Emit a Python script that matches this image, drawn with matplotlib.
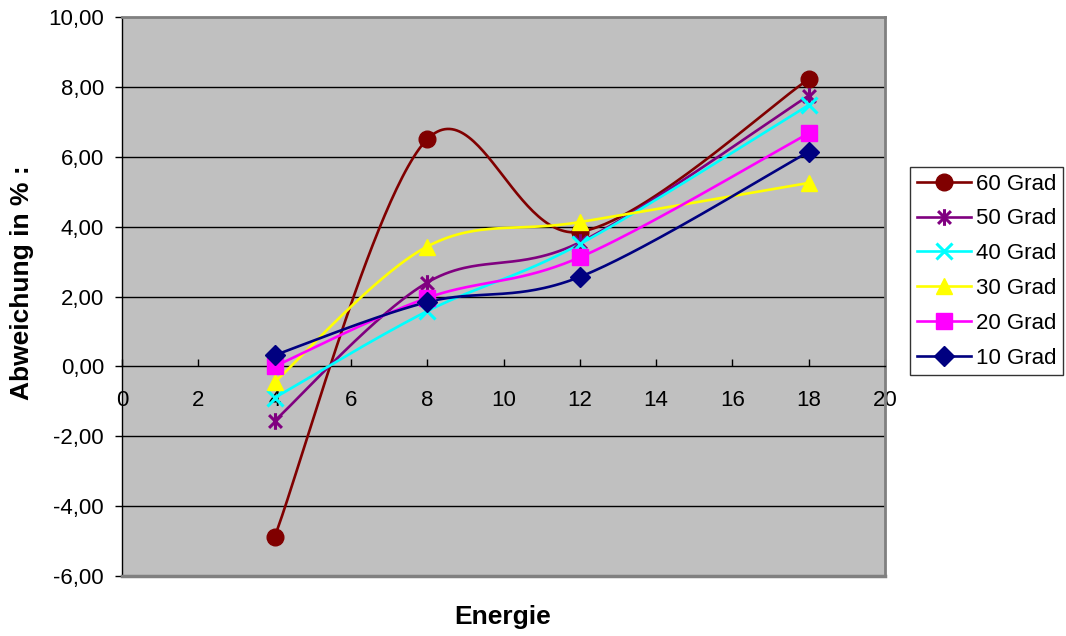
import numpy as np
import matplotlib
matplotlib.use("Agg")
import matplotlib.pyplot as plt
from matplotlib.path import Path
from matplotlib.ticker import FuncFormatter, MultipleLocator
from matplotlib.lines import Line2D

plt.rcParams['font.family'] = ['Liberation Sans', 'DejaVu Sans']

# Energy values (x) and relative deviation per angle
energie = [4, 8, 12, 18]
grad_60 = [-4.88, 6.50, 3.85, 8.22]
grad_50 = [-1.56, 2.40, 3.55, 7.75]
grad_40 = [-0.90, 1.58, 3.50, 7.48]
grad_30 = [-0.45, 3.43, 4.13, 5.25]
grad_20 = [0.00, 1.96, 3.12, 6.67]
grad_10 = [0.32, 1.84, 2.56, 6.14]

labels = ['60 Grad', '50 Grad', '40 Grad', '30 Grad', '20 Grad', '10 Grad']
series = [grad_60, grad_50, grad_40, grad_30, grad_20, grad_10]
colors = ['#800000', '#800080', '#00FFFF', '#FFFF00', '#FF00FF', '#000080']

# asterisk marker: an X crossed by a vertical bar
asterisk = Path([(-1, -1), (1, 1), (-1, 1), (1, -1), (0, -1.3), (0, 1.3)],
                [Path.MOVETO, Path.LINETO, Path.MOVETO, Path.LINETO,
                 Path.MOVETO, Path.LINETO])
markers = ['o', asterisk, 'x', '^', 's', 'D']
msizes = [12, 12, 11, 11.5, 11.5, 10]
medge = [1, 2.2, 2.2, 1, 1, 1]


def smooth(xs, ys, n=60):
    """Cubic Bezier through the points with Catmull-Rom style control points."""
    pts = np.column_stack([xs, ys]).astype(float)
    out = [pts[0]]
    m = len(pts)
    for i in range(m - 1):
        p0 = pts[i - 1] if i > 0 else pts[i]
        p1 = pts[i]
        p2 = pts[i + 1]
        p3 = pts[i + 2] if i + 2 < m else pts[i + 1]
        c1 = p1 + (p2 - p0) / 6.0
        c2 = p2 - (p3 - p1) / 6.0
        t = np.linspace(0, 1, n)[1:, None]
        seg = ((1 - t) ** 3) * p1 + 3 * ((1 - t) ** 2) * t * c1 \
            + 3 * (1 - t) * t ** 2 * c2 + t ** 3 * p2
        out.extend(seg)
    out = np.array(out)
    return out[:, 0], out[:, 1]


fig = plt.figure(figsize=(10.66, 6.36), dpi=100)
ax = fig.add_axes([122 / 1066, 1 - 576 / 636, (885 - 122) / 1066, (576 - 17) / 636])
ax.set_facecolor('#C0C0C0')

for vals, col, mk, ms, mew in zip(series, colors, markers, msizes, medge):
    sx, sy = smooth(energie, vals)
    ax.plot(sx, sy, color=col, lw=1.9, zorder=3)
    ax.plot(energie, vals, ls='none', marker=mk, ms=ms, color=col,
            markerfacecolor=col, markeredgecolor=col, mew=mew, zorder=4)

ax.set_xlim(0, 20)
ax.set_ylim(-6, 10)
ax.xaxis.set_major_locator(MultipleLocator(2))
ax.yaxis.set_major_locator(MultipleLocator(2))
ax.yaxis.set_major_formatter(FuncFormatter(lambda v, p: f"{v:.2f}".replace('.', ',')))

for v in range(-4, 10, 2):
    if v != 0:
        ax.axhline(v, color='black', lw=1, zorder=1)

ax.spines['bottom'].set_position(('data', 0))
ax.spines['bottom'].set_color('black')
ax.spines['bottom'].set_linewidth(1)
ax.spines['left'].set_color('black')
ax.spines['left'].set_linewidth(1)
for s in ('top', 'right'):
    ax.spines[s].set_color('#808080')
    ax.spines[s].set_linewidth(2)
ax.add_line(Line2D([0, 1], [0, 0], transform=ax.transAxes, color='#808080',
                   lw=2.5, clip_on=False, zorder=5))

ax.tick_params(axis='x', direction='in', length=5, width=1, pad=17, labelsize=16)
ax.tick_params(axis='y', direction='out', length=5, width=1, pad=8, labelsize=16)

fig.text(503 / 1066, 1 - 617 / 636, 'Energie', ha='center', va='center',
         fontsize=19, fontweight='bold')
fig.text(22 / 1066, 1 - 283 / 636, 'Abweichung in % :', ha='center', va='center',
         rotation=90, fontsize=19, fontweight='bold')

handles = []
for col, mk, ms, mew in zip(colors, markers, msizes, medge):
    handles.append(Line2D([], [], color=col, lw=1.9, marker=mk, ms=ms,
                          markerfacecolor=col, markeredgecolor=col, mew=mew))
leg = ax.legend(handles, labels, loc='upper left',
                bbox_to_anchor=(910 / 1066, 1 - 167 / 636),
                bbox_transform=fig.transFigure, borderaxespad=0,
                fontsize=16, frameon=True, fancybox=False, shadow=False,
                handlelength=2.45, handletextpad=0.2, labelspacing=0.62,
                borderpad=0.3, markerscale=1.0)
leg.get_frame().set_edgecolor('black')
leg.get_frame().set_linewidth(1)

fig.savefig('out.png', dpi=100)
